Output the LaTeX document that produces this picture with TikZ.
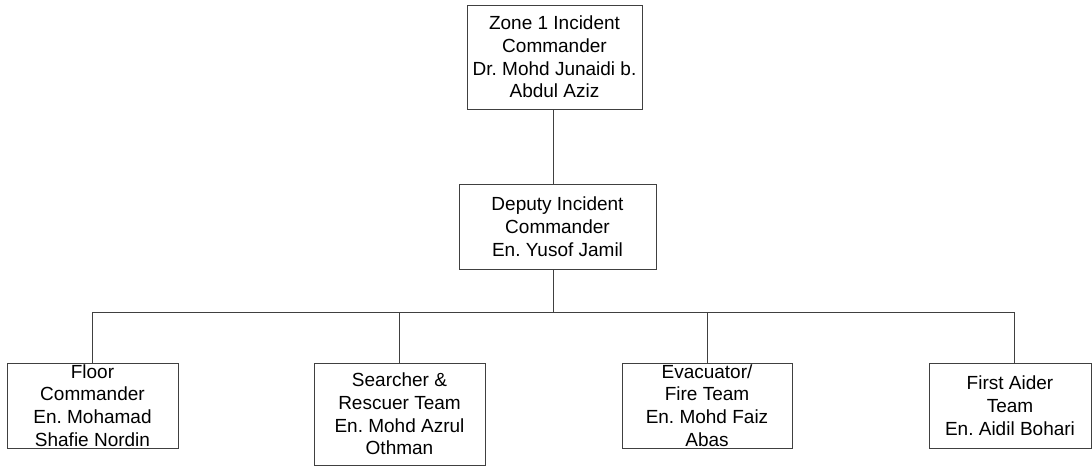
\documentclass[tikz,border=0pt]{standalone}
\usepackage{fontspec}
\setmainfont{Liberation Sans}
\frenchspacing
\tikzset{
  box/.style={draw=black!75, line width=1pt, inner sep=0pt, minimum width=171pt, minimum height=85pt},
  txt/.style={align=center, inner sep=0pt, font=\fontsize{19}{22.8}\selectfont},
  link/.style={draw=black!75, line width=1pt}
}
\begin{document}
\begin{tikzpicture}[x=1pt,y=-1pt]
      \useasboundingbox (0,0) rectangle (1092,466);
      \node[box, minimum width=175pt, minimum height=104pt, label={[txt]center:{Zone 1 Incident\\Commander\\Dr. Mohd Junaidi b.\\Abdul Aziz}}] (zc) at (554.5,57) {};
      \node[box, minimum width=197pt, label={[txt]center:{Deputy Incident\\Commander\\En. Yusof Jamil}}] (dc) at (557.5,226.5) {};
      \node[box, label={[txt]center:{Floor\\Commander\\En. Mohamad\\Shafie Nordin}}] (fc) at (92.5,405.5) {};
      \node[box, minimum height=102pt, label={[txt]center:{Searcher \&\\Rescuer Team\\En. Mohd Azrul\\Othman}}] (sr) at (399.5,414) {};
      \node[box, minimum width=170pt, label={[txt]center:{Evacuator/\\Fire Team\\En. Mohd Faiz\\Abas}}] (ev) at (707,405.5) {};
      \node[box, minimum width=162pt, label={[txt]center:{First Aider\\Team\\En. Aidil Bohari}}] (fa) at (1010,405.5) {};
      \coordinate (bar) at (553,312);
      \draw[link] (zc.south -| bar) -- (dc.north -| bar);
      \draw[link] (dc.south -| bar) -- (bar);
      \draw[link] (bar) -| (fc.north);
      \draw[link] (bar) -| (sr.north);
      \draw[link] (bar) -| (ev.north);
      \draw[link] (bar) -| ([xshift=4pt]fa.north);
    \end{tikzpicture}
\end{document}
